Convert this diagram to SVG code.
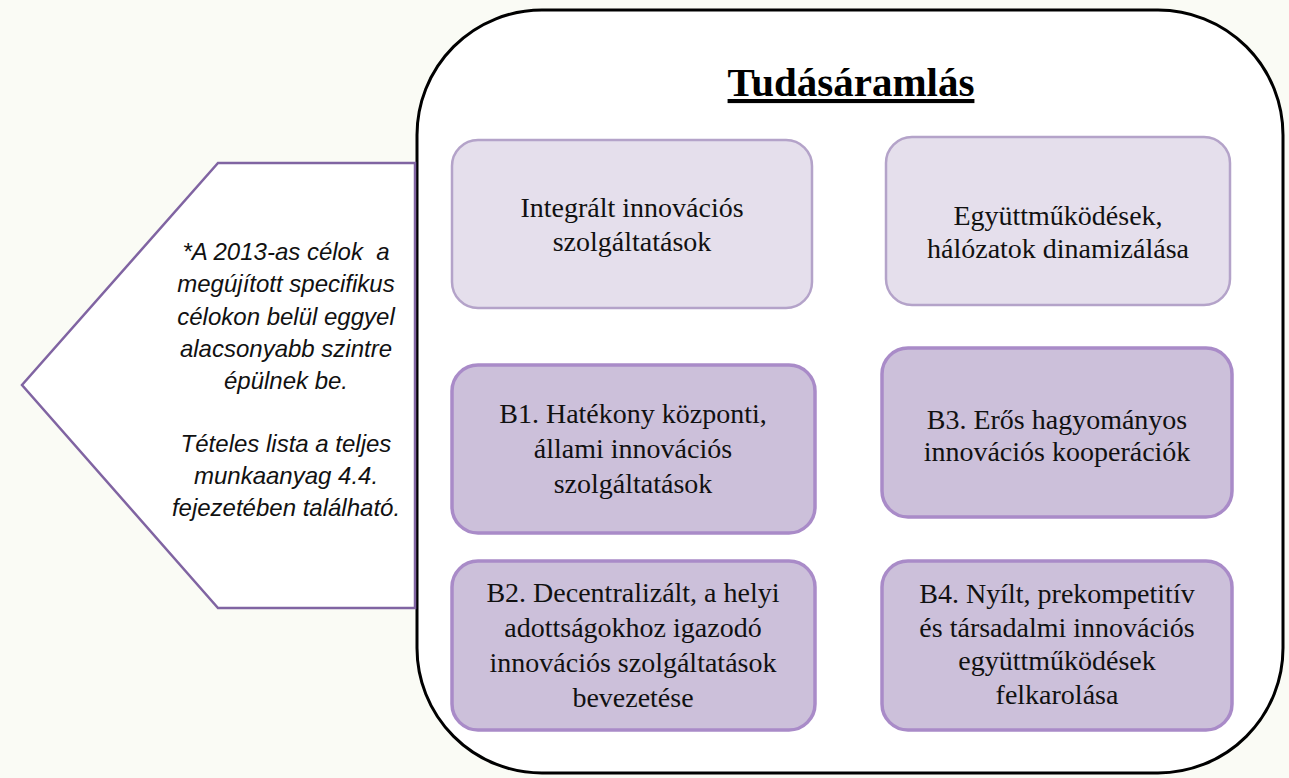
<svg xmlns="http://www.w3.org/2000/svg" width="1289" height="778" viewBox="0 0 1289 778">
<style>
.lt{fill:#e5dfec;stroke:#b4a3c9;stroke-width:2.5}
.dk{fill:#ccc0da;stroke:#a98bc8;stroke-width:3.5}
.bt{font-family:"Liberation Serif",serif;font-size:28px;fill:#111;text-anchor:middle}
.nt{font-family:"Liberation Sans",sans-serif;font-style:italic;font-size:24px;fill:#111;text-anchor:middle}
</style>
<rect x="0" y="0" width="1289" height="778" fill="#fafbf5"/>
<g id="frame">
<rect x="417" y="10" width="866" height="763" rx="125" ry="125" fill="#ffffff" stroke="#000" stroke-width="3"/>
<text x="851" y="96" font-family="Liberation Serif,serif" font-weight="bold" font-size="41" text-anchor="middle" text-decoration="underline" fill="#000">Tudásáramlás</text>
</g>
<g id="note">
<polygon points="218,163 415,163 415,608 218,608 22,385" fill="#ffffff" stroke="#8064a2" stroke-width="2.5"/>
<text class="nt"><tspan x="286" y="260">*A 2013-as célok&#160; a</tspan><tspan x="286" y="292">megújított specifikus</tspan><tspan x="286" y="325">célokon belül eggyel</tspan><tspan x="286" y="357">alacsonyabb szintre</tspan><tspan x="286" y="389">épülnek be.</tspan><tspan x="286" y="452">Tételes lista a teljes</tspan><tspan x="286" y="484">munkaanyag 4.4.</tspan><tspan x="286" y="516">fejezetében található.</tspan></text>
</g>
<g id="box-integralt">
<rect class="lt" x="452" y="140" width="360" height="168" rx="26"/>
<text class="bt"><tspan x="632" y="217">Integrált innovációs</tspan><tspan x="632" y="251">szolgáltatások</tspan></text>
</g>
<g id="box-egyuttmukodesek">
<rect class="lt" x="886" y="137" width="344" height="168" rx="26"/>
<text class="bt"><tspan x="1058" y="225">Együttműködések,</tspan><tspan x="1058" y="258">hálózatok dinamizálása</tspan></text>
</g>
<g id="box-b1">
<rect class="dk" x="452" y="365" width="363" height="168" rx="26"/>
<text class="bt"><tspan x="633" y="423">B1. Hatékony központi,</tspan><tspan x="633" y="458">állami innovációs</tspan><tspan x="633" y="493">szolgáltatások</tspan></text>
</g>
<g id="box-b2">
<rect class="dk" x="452" y="561" width="363" height="169" rx="26"/>
<text class="bt"><tspan x="633" y="602">B2. Decentralizált, a helyi</tspan><tspan x="633" y="637">adottságokhoz igazodó</tspan><tspan x="633" y="672">innovációs szolgáltatások</tspan><tspan x="633" y="707">bevezetése</tspan></text>
</g>
<g id="box-b3">
<rect class="dk" x="882" y="348" width="350" height="169" rx="26"/>
<text class="bt"><tspan x="1057" y="429">B3. Erős hagyományos</tspan><tspan x="1057" y="461">innovációs kooperációk</tspan></text>
</g>
<g id="box-b4">
<rect class="dk" x="882" y="561" width="350" height="169" rx="26"/>
<text class="bt"><tspan x="1057" y="603">B4. Nyílt, prekompetitív</tspan><tspan x="1057" y="637">és társadalmi innovációs</tspan><tspan x="1057" y="670">együttműködések</tspan><tspan x="1057" y="704">felkarolása</tspan></text>
</g>
<g id="connectors"></g>
</svg>
